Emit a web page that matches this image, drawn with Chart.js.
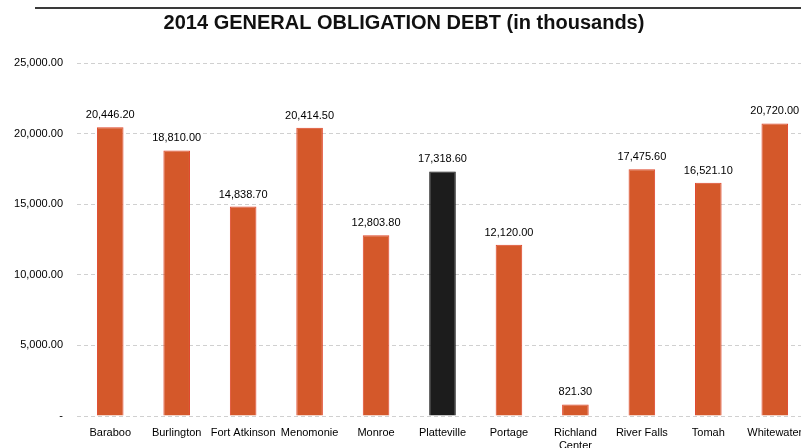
<!DOCTYPE html>
<html><head><meta charset="utf-8">
<script src="https://cdn.jsdelivr.net/npm/chart.js@4.4.0/dist/chart.umd.min.js"></script>
<style>html,body{margin:0;padding:0;background:#fff;overflow:hidden;width:801px;height:448px}
#wrap{position:absolute;left:0;top:0;width:812px;height:448px}</style>
</head><body><div id="wrap"><canvas id="c" width="812" height="448"></canvas></div>
<script>
const categories = ["Baraboo","Burlington","Fort Atkinson","Menomonie","Monroe","Platteville","Portage",["Richland","Center"],"River Falls","Tomah","Whitewater"];
const debtValues = [20446.20,18810.00,14838.70,20414.50,12803.80,17318.60,12120.00,821.30,17475.60,16521.10,20720.00];
const highlightIndex = 5;
const yTicks = [0,5000,10000,15000,20000,25000];
const titleText = "2014 GENERAL OBLIGATION DEBT (in thousands)";

const FONT = "'Liberation Sans', Arial, sans-serif";
const fmt = v => v.toLocaleString('en-US',{minimumFractionDigits:2,maximumFractionDigits:2});

const topRule = {
  id:'topRule',
  beforeDraw(chart){
    const c = chart.ctx;
    c.save();
    c.fillStyle='#fff'; c.fillRect(0,0,chart.width,chart.height);
    c.strokeStyle='#3a3a3a'; c.lineWidth=2;
    c.beginPath(); c.moveTo(35,8); c.lineTo(chart.width,8); c.stroke();
    c.restore();
  }
};
const valueLabels = {
  id:'valueLabels',
  afterDatasetsDraw(chart){
    const c = chart.ctx, meta = chart.getDatasetMeta(0);
    c.save();
    c.font = "11px " + FONT; c.fillStyle='#000'; c.textAlign='center'; c.textBaseline='middle';
    meta.data.forEach((bar,i)=>{ c.fillText(fmt(debtValues[i]), bar.x, bar.y-12); });
    c.restore();
  }
};

new Chart(document.getElementById('c'),{
  type:'bar',
  data:{labels:categories,datasets:[{
    data:debtValues,
    backgroundColor:debtValues.map((v,i)=>i===highlightIndex?'#1c1c1c':'#d4582a'),
    borderColor:debtValues.map((v,i)=>i===highlightIndex?'#111':'#e0452a'),
    borderWidth:1,
    barPercentage:0.4, categoryPercentage:1
  }]},
  options:{
    responsive:false, animation:false, devicePixelRatio:1,
    layout:{padding:{left:0,right:4,top:0,bottom:0}},
    plugins:{
      legend:{display:false}, tooltip:{enabled:false},
      title:{display:true,text:titleText,color:'#111',font:{family:FONT,size:20,weight:'bold'},padding:{top:11,bottom:28}}
    },
    scales:{
      x:{grid:{display:false},border:{display:false},
         ticks:{color:'#000',font:{family:FONT,size:11},padding:2,maxRotation:0,autoSkip:false},
         afterFit:s=>{s.height=32;}},
      y:{min:0,max:25000,
         afterBuildTicks:s=>{s.ticks=yTicks.map(v=>({value:v}));},
         afterFit:s=>{s.width=77;},
         grid:{color:'#d0d0d0',drawTicks:false},
         border:{display:false,dash:[4,3]},
         ticks:{color:'#000',font:{family:FONT,size:11},padding:14,callback:v=>v===0?'-':fmt(v)}}
    }
  },
  plugins:[topRule,valueLabels]
});
</script></body></html>
